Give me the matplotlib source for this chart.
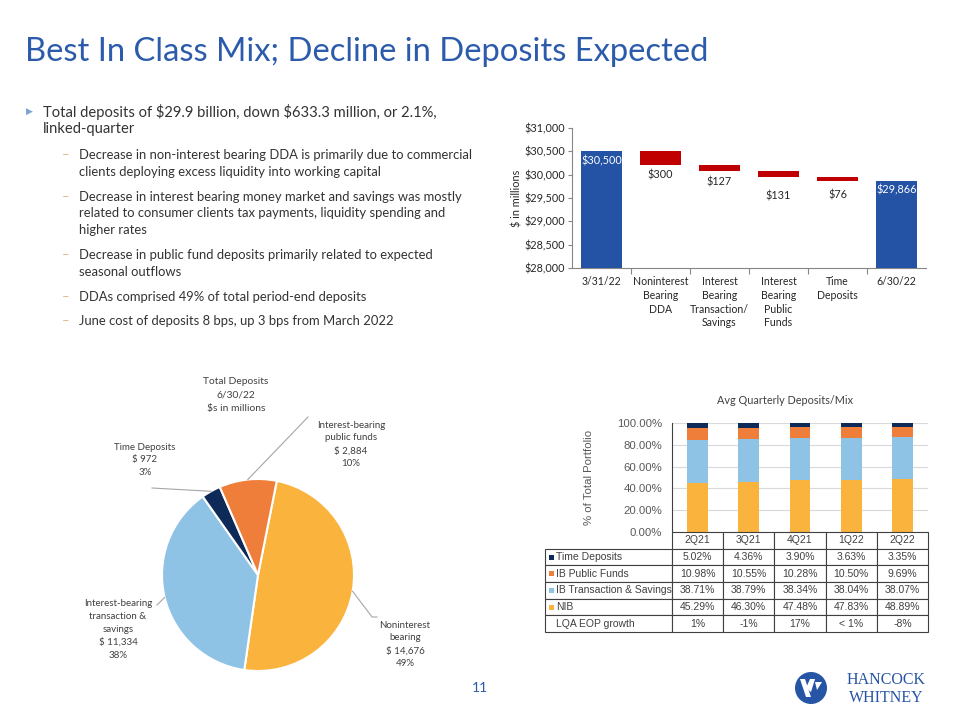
import matplotlib
matplotlib.use('Agg')
import matplotlib.pyplot as plt
import numpy as np
from matplotlib.patches import Rectangle, Circle, Polygon
from matplotlib.ticker import FuncFormatter, FixedLocator

# ---------------- data ----------------
wf_categories = ['3/31/22', 'Noninterest\nBearing\nDDA', 'Interest\nBearing\nTransaction/\nSavings',
                 'Interest\nBearing\nPublic\nFunds', 'Time\nDeposits', '6/30/22']
wf_start = 30500
wf_changes = [-300, -127, -131, -76]
wf_end = 29866
wf_yticks = [28000, 28500, 29000, 29500, 30000, 30500, 31000]

pie_labels = ['Noninterest\nbearing', 'Interest-bearing\ntransaction &\nsavings',
              'Time Deposits', 'Interest-bearing\npublic funds']
pie_values = [14676, 11334, 972, 2884]
pie_pcts = ['49%', '38%', '3%', '10%']

mix_quarters = ['2Q21', '3Q21', '4Q21', '1Q22', '2Q22']
mix_series = ['Time Deposits', 'IB Public Funds', 'IB Transaction & Savings', 'NIB']
time_dep = [5.02, 4.36, 3.90, 3.63, 3.35]
ib_public = [10.98, 10.55, 10.28, 10.50, 9.69]
ib_trans = [38.71, 38.79, 38.34, 38.04, 38.07]
nib = [45.29, 46.30, 47.48, 47.83, 48.89]
lqa_growth = ['1%', '-1%', '17%', '< 1%', '-8%']
mix_yticks = [0, 20, 40, 60, 80, 100]

bullet_main = ['Total deposits of $29.9 billion, down $633.3 million, or 2.1%,', 'linked-quarter']
bullet_subs = [
    ['Decrease in non-interest bearing DDA is primarily due to commercial',
     'clients deploying excess liquidity into working capital'],
    ['Decrease in interest bearing money market and savings was mostly',
     'related to consumer clients tax payments, liquidity spending and',
     'higher rates'],
    ['Decrease in public fund deposits primarily related to expected',
     'seasonal outflows'],
    ['DDAs comprised 49% of total period-end deposits'],
    ['June cost of deposits 8 bps, up 3 bps from March 2022'],
]

# ---------------- style ----------------
BLUE = '#2453A5'
TITLE_BLUE = '#2B5BAA'
RED = '#C00000'
C_NIB = '#FAB33C'
C_TRANS = '#8EC3E6'
C_PUB = '#EE7E3A'
C_TIME = '#0E2A58'
TXT = '#333333'
CAL = 'Lato'
TAB = 'Liberation Sans'

W, H = 960, 720
fig = plt.figure(figsize=(9.6, 7.2), dpi=100)


def axes_px(l, t, r, b, **kw):
    return fig.add_axes([l / W, 1 - b / H, (r - l) / W, (b - t) / H], **kw)


# overlay axes in pixel coordinates (y downward)
ov = axes_px(0, 0, W, H, zorder=10)
ov.set_xlim(0, W)
ov.set_ylim(H, 0)
ov.axis('off')
ov.patch.set_alpha(0)


def txt(x, y, s, size, color=TXT, ha='left', family=CAL, **kw):
    ov.text(x, y, s, fontsize=size, color=color, ha=ha, va='center', family=family,
            parse_math=False, **kw)


def mtxt(x, y0, lines, dy, size, color=TXT, ha='center', family=CAL):
    for i, s in enumerate(lines):
        txt(x, y0 + i * dy, s, size, color, ha, family)


# ---------------- title & bullets ----------------
txt(25, 52, 'Best In Class Mix; Decline in Deposits Expected', 23.6, TITLE_BLUE)
txt(26, 111, '\u25B6', 6.5, '#7BA3D6', family='DejaVu Sans')
mtxt(43, 111.5, bullet_main, 17.7, 10.6, ha='left')
sub_y = [155, 196.7, 255, 296.7, 321]
for y0, lines in zip(sub_y, bullet_subs):
    txt(62, y0, '\u2013', 9.5, '#E3B886')
    mtxt(79, y0, lines, 16.7, 9.4, ha='left')

# ---------------- waterfall ----------------
axw = axes_px(572, 128, 926, 268)
n = len(wf_categories)
xw = np.arange(n)
levels = np.concatenate([[wf_start], wf_start + np.cumsum(wf_changes)])
bw = 0.69
axw.bar([0, n - 1], [wf_start, wf_end], width=bw, color=BLUE, zorder=3)
axw.bar(xw[1:n - 1], wf_changes, bottom=levels[:-1], width=bw, color=RED, zorder=3)
axw.set_xlim(-0.5, n - 0.5)
axw.set_ylim(wf_yticks[0], wf_yticks[-1])
axw.yaxis.set_major_locator(FixedLocator(wf_yticks))
axw.yaxis.set_major_formatter(FuncFormatter(lambda v, p: '${:,.0f}'.format(v)))
axw.set_xticks(xw)
axw.set_xticklabels(wf_categories, fontsize=7.6, family=CAL, color='#262626', linespacing=1.3)
axw.set_xticks(np.arange(0.5, n - 1, 1), minor=True)
axw.tick_params(axis='x', which='major', length=0, pad=6)
axw.tick_params(axis='x', which='minor', length=4, color='#868686', width=0.8)
axw.tick_params(axis='y', length=3, color='#868686', width=0.8, labelsize=7.8, pad=2,
                labelcolor='#262626')
for lab in axw.get_yticklabels():
    lab.set_family(CAL)
for s in ['top', 'right']:
    axw.spines[s].set_visible(False)
for s in ['left', 'bottom']:
    axw.spines[s].set_color('#868686')
    axw.spines[s].set_linewidth(0.8)
axw.set_ylabel('$ in millions', fontsize=7.8, family=CAL, color='#262626', labelpad=1)
# labels
for xi, v in [(0, wf_start), (n - 1, wf_end)]:
    axw.annotate('${:,.0f}'.format(v), (xi, v), xytext=(0, -6.6), textcoords='offset points',
                 ha='center', va='center', color='white', fontsize=7.8, family=CAL)
red_offsets = [7.0, 7.5, 13.4, 10.1]
for i, ch in enumerate(wf_changes):
    axw.annotate('${:,.0f}'.format(-ch), (i + 1, levels[i + 1]), xytext=(0, -red_offsets[i]),
                 textcoords='offset points', ha='center', va='center', color='#262626',
                 fontsize=7.8, family=CAL)

# ---------------- pie ----------------
pcx, pcy, pr = 258, 575, 96
axp = axes_px(pcx - pr, pcy - pr, pcx + pr, pcy + pr)
wedges, _ = axp.pie(pie_values, colors=[C_NIB, C_TRANS, C_TIME, C_PUB], startangle=78.7,
                    counterclock=False, radius=1,
                    wedgeprops=dict(edgecolor='white', linewidth=1.5))
axp.set_xlim(-1, 1)
axp.set_ylim(-1, 1)
axp.set_aspect('equal')


def pie_anchor(w):
    th = np.deg2rad((w.theta1 + w.theta2) / 2)
    return pcx + pr * np.cos(th), pcy - pr * np.sin(th)


LC = '#A6A6A6'
mtxt(236, 381, ['Total Deposits', '6/30/22', '$s in millions'], 14, 7.4, color='#404040')
label_pos = [(405, 625), (118, 604), (145, 447), (351, 425)]
elbows = [[(372, 617), (377, 617)], [(157, 605)], [(152, 488)], [(308, 417)]]
for i, w in enumerate(wedges):
    ax0, ay0 = pie_anchor(w)
    pts = [(ax0, ay0)] + elbows[i]
    ov.plot([p[0] for p in pts], [p[1] for p in pts], color=LC, lw=0.8)
    lines = pie_labels[i].split('\n') + ['$ {:,.0f}'.format(pie_values[i]), pie_pcts[i]]
    lx, ly = label_pos[i]
    mtxt(lx, ly, lines, 12.8, 7.0, color='#404040')

# ---------------- stacked mix ----------------
axm = axes_px(672, 423, 928, 532)
xm = np.arange(len(mix_quarters))
bottom = np.zeros(len(mix_quarters))
for vals, col in [(nib, C_NIB), (ib_trans, C_TRANS), (ib_public, C_PUB), (time_dep, C_TIME)]:
    axm.bar(xm, vals, bottom=bottom, width=0.41, color=col, zorder=3)
    bottom += np.array(vals)
axm.set_xlim(-0.5, len(mix_quarters) - 0.5)
axm.set_ylim(0, 100)
axm.set_yticks(mix_yticks)
axm.yaxis.set_major_formatter(FuncFormatter(lambda v, p: '{:.2f}%'.format(v)))
axm.set_xticks([])
axm.grid(axis='y', color='#D9D9D9', lw=0.8, zorder=0)
for s in ['top', 'right', 'bottom']:
    axm.spines[s].set_visible(False)
axm.spines['left'].set_color('#404040')
axm.spines['left'].set_linewidth(0.8)
axm.tick_params(axis='y', length=0, labelsize=8.2, labelcolor='#595959', pad=7)
for lab in axm.get_yticklabels():
    lab.set_family(TAB)
axm.set_ylabel('% of Total Portfolio', fontsize=8.2, family=TAB, color='#595959', labelpad=17)
txt(785, 400, 'Avg Quarterly Deposits/Mix', 7.8, '#404040', ha='center')

# table
axt = axes_px(545, 532, 928, 632)
axt.axis('off')
rows = []
for name, vals in zip(mix_series, [time_dep, ib_public, ib_trans, nib]):
    rows.append([name] + ['{:.2f}%'.format(v) for v in vals])
rows.append(['LQA EOP growth'] + lqa_growth)
lw0 = 127 / 383
cw = (1 - lw0) / len(mix_quarters)
tbl = axt.table(cellText=rows, colLabels=[''] + mix_quarters, colWidths=[lw0] + [cw] * 5,
                bbox=[0, 0, 1, 1], cellLoc='center')
tbl.auto_set_font_size(False)
tbl.set_fontsize(7.5)
for (r, c), cell in tbl.get_celld().items():
    cell.set_edgecolor('#404040')
    cell.set_linewidth(0.8)
    cell.get_text().set_color('#404040')
    cell.get_text().set_family(TAB)
    if c == 0:
        cell.PAD = 0.085
        cell.get_text().set_ha('left')
        cell._loc = 'left'
    if r == 0 and c == 0:
        cell.set_visible(False)
rh = 100 / 6
for i, col in enumerate([C_TIME, C_PUB, C_TRANS, C_NIB]):
    cy = 532 + rh * (i + 1.5)
    ov.add_patch(Rectangle((549, cy - 2.5), 4.5, 5, color=col, lw=0))

# ---------------- footer ----------------
txt(480, 688, '11', 10, TITLE_BLUE, ha='center')
ov.add_patch(Circle((811, 688), 16, color='#2755A5', lw=0))
ov.add_patch(Polygon([(800, 679), (805, 679), (811, 697), (806, 697)], color='white', lw=0))
ov.add_patch(Polygon([(806, 688), (810, 679), (815, 679), (811, 692)], color='white', lw=0))
ov.add_patch(Polygon([(815, 682), (822, 682), (817, 690)], color='white', lw=0))
txt(886, 680, 'HANCOCK', 11.5, '#2755A5', ha='center', family='Liberation Serif')
txt(886, 698, 'WHITNEY', 11.5, '#2755A5', ha='center', family='Liberation Serif')

fig.savefig('out.png', dpi=100)
